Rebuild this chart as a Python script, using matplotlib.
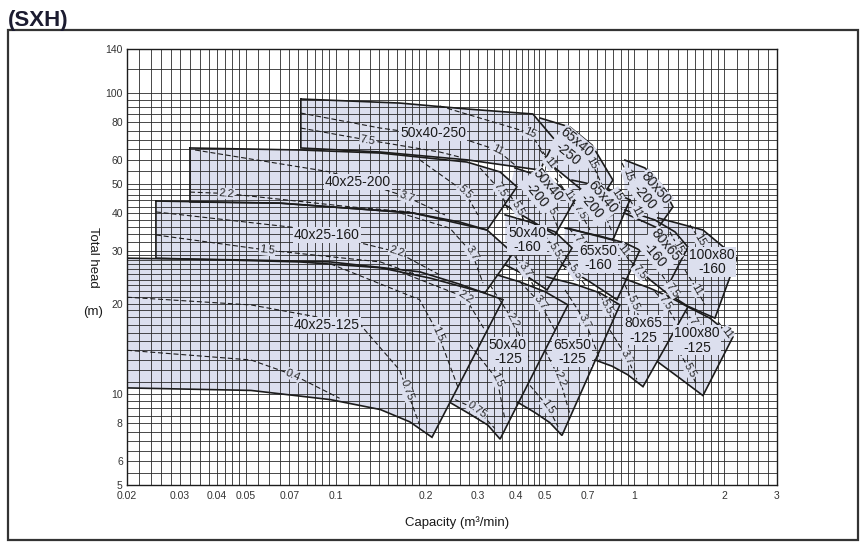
import matplotlib.pyplot as plt
from matplotlib.patches import Rectangle
from matplotlib.ticker import NullFormatter
import numpy as np

plt.rcParams['font.family'] = ['Liberation Sans', 'DejaVu Sans']

# capacity (m3/min) and total head (m)
# every model: (Q, H) of the big impeller curve and of the small impeller curve
m40x25_125_top = ([0.020, 0.052, 0.096, 0.191, 0.260, 0.363], [28.3, 27.9, 27.5, 25.5, 23.2, 20.6])
m40x25_125_bot = ([0.020, 0.052, 0.096, 0.141, 0.177, 0.210], [10.5, 10.3, 9.6, 8.9, 8.1, 7.2])
m50x40_125_top = ([0.347, 0.414, 0.502, 0.599], [24.9, 23.6, 21.9, 19.8])
m50x40_125_bot = ([0.241, 0.281, 0.323, 0.355], [9.4, 8.6, 7.9, 7.1])
m65x50_125_top = ([0.510, 0.632, 0.767, 0.894], [24.5, 23.2, 21.7, 19.8])
m65x50_125_bot = ([0.407, 0.464, 0.521, 0.572], [9.4, 8.7, 8.05, 7.3])
m80x65_125_top = ([0.915, 1.127, 1.315, 1.510], [24.3, 22.5, 21.0, 19.5])
m80x65_125_bot = ([0.738, 0.841, 0.951, 1.068], [13.0, 12.4, 11.6, 10.6])
m100x80_125_top = ([1.510, 1.789, 2.137], [19.5, 17.9, 15.5])
m100x80_125_bot = ([1.198, 1.420, 1.696], [12.8, 11.3, 9.9])

m40x25_160_top = ([0.025, 0.065, 0.181, 0.260, 0.321, 0.392], [43.8, 43.1, 40.0, 37.3, 35.1, 29.4])
m40x25_160_bot = ([0.025, 0.076, 0.141, 0.207, 0.316], [28.3, 27.5, 26.3, 24.3, 21.7])
m50x40_160_top = ([0.369, 0.447, 0.542, 0.618], [39.4, 37.3, 34.6, 30.6])
m50x40_160_bot = ([0.369, 0.430, 0.510], [26.9, 24.9, 22.2])
m65x50_160_top = ([0.586, 0.767, 0.929, 1.043], [35.6, 33.5, 31.8, 30.1])
m65x50_160_bot = ([0.572, 0.710, 0.874], [26.9, 23.6, 20.6])
m80x65_160_top = ([0.929, 1.171, 1.367, 1.510], [40.9, 37.9, 34.6, 30.8])
m80x65_160_bot = ([0.989, 1.127, 1.265], [26.9, 24.0, 21.9])
m100x80_160_top = ([1.198, 1.696, 2.203], [38.5, 35.1, 28.3])
m100x80_160_bot = ([1.265, 1.510, 1.860], [21.9, 19.6, 17.9])

m40x25_200_top = ([0.0325, 0.076, 0.141, 0.275, 0.355, 0.404], [65.7, 64.7, 63.2, 59.0, 54.7, 48.8])
m40x25_200_bot = ([0.0325, 0.065, 0.181, 0.321], [43.5, 43.1, 40.0, 35.1])
m50x40_200_top = ([0.398, 0.483, 0.563, 0.632], [56.4, 53.0, 49.1, 44.2])
m50x40_200_bot = ([0.369, 0.447, 0.542], [42.5, 37.9, 33.8])
m65x40_200_top = ([0.618, 0.738, 0.847, 0.966], [51.4, 49.5, 46.9, 44.2])
m65x40_200_bot = ([0.599, 0.710, 0.847], [35.6, 34.0, 32.5])
m80x50_200_top = ([0.929, 1.084, 1.236, 1.346], [59.9, 56.4, 49.5, 41.9])
m80x50_200_bot = ([0.922, 1.043, 1.198], [40.0, 37.9, 35.6])

m50x40_250_top = ([0.0764, 0.164, 0.275, 0.457, 0.542], [95.5, 92.6, 88.5, 85.2, 69.8])
m50x40_250_bot = ([0.0764, 0.141, 0.275, 0.383, 0.483], [65.7, 63.7, 60.0, 57.3, 55.5])
m65x40_250_top = ([0.483, 0.608, 0.721, 0.847], [82.6, 77.1, 67.2, 51.4])
m65x40_250_bot = ([0.502, 0.608, 0.755], [60.0, 51.4, 43.1])

# motor output lines (kW): text, Q, H, index of the point carrying the label
kw_lines = [
    ("0.4", [0.020, 0.052, 0.072, 0.103], [14.0, 13.0, 11.6, 9.7], 2),
    ("0.75", [0.020, 0.052, 0.121, 0.164, 0.173, 0.191], [21.0, 19.8, 17.0, 12.0, 10.3, 7.9], 4),
    ("1.5", [0.096, 0.191, 0.220, 0.257], [27.1, 20.6, 15.9, 10.5], 2),
    ("2.2", [0.164, 0.271, 0.316], [25.5, 21.0, 16.3], 1),
    ("0.75", [0.251, 0.297, 0.341], [9.6, 8.9, 7.7], 1),
    ("1.5", [0.281, 0.347, 0.369], [14.6, 11.2, 8.2], 1),
    ("2.2", [0.328, 0.392, 0.447], [23.1, 17.6, 13.0], 1),
    ("3.7", [0.414, 0.483, 0.542], [23.6, 20.1, 16.3], 1),
    ("1.5", [0.447, 0.513, 0.555], [10.7, 9.1, 7.8], 1),
    ("2.2", [0.502, 0.563, 0.608], [14.0, 11.2, 8.6], 1),
    ("3.7", [0.586, 0.683, 0.767], [22.2, 17.5, 13.0], 1),
    ("5.5", [0.755, 0.809, 0.841], [21.9, 19.5, 17.6], 1),
    ("3.7", [0.828, 0.944, 1.019], [16.3, 13.3, 11.2], 1),
    ("5.5", [0.929, 0.989, 1.084], [23.1, 20.1, 16.3], 1),
    ("7.5", [1.171, 1.265, 1.367], [21.9, 20.1, 17.6], 1),
    ("5.5", [1.367, 1.534, 1.619], [14.6, 12.0, 10.7], 1),
    ("7.5", [1.476, 1.594, 1.722], [19.0, 17.0, 14.6], 1),
    ("11", [1.904, 2.040, 2.118], [17.4, 16.0, 15.1], 1),
    ("1.5", [0.025, 0.059, 0.141, 0.191], [33.8, 30.1, 27.5, 24.7], 1),
    ("2.2", [0.025, 0.076, 0.160, 0.223], [40.3, 35.6, 29.7, 24.9], 2),
    ("3.7", [0.164, 0.241, 0.286, 0.311], [40.0, 35.6, 29.4, 23.4], 2),
    ("3.7", [0.383, 0.430, 0.464], [30.1, 25.9, 22.5], 1),
    ("5.5", [0.483, 0.542, 0.586], [35.6, 30.1, 25.9], 1),
    ("5.5", [0.586, 0.632, 0.683], [29.0, 25.5, 23.1], 1),
    ("7.5", [0.604, 0.657, 0.738], [35.6, 32.0, 27.5], 1),
    ("11", [0.841, 0.915, 0.966], [33.0, 30.1, 27.5], 1),
    ("7.5", [0.966, 1.043, 1.127], [27.9, 25.5, 23.1], 1),
    ("15", [1.315, 1.398, 1.476], [34.6, 30.8, 27.9], 1),
    ("7.5", [1.236, 1.335, 1.420], [24.9, 22.2, 20.6], 1),
    ("11", [1.476, 1.619, 1.722], [25.9, 22.2, 19.8], 1),
    ("15", [1.534, 1.657, 1.817], [36.5, 32.5, 27.5], 1),
    ("2.2", [0.0325, 0.043, 0.112, 0.177], [46.9, 46.4, 41.9, 40.3], 1),
    ("3.7", [0.0338, 0.096, 0.173, 0.232], [64.7, 54.7, 45.2, 39.4], 2),
    ("5.5", [0.191, 0.271, 0.299], [60.0, 46.9, 39.4], 1),
    ("7.5", [0.304, 0.355, 0.377], [56.4, 47.6, 40.9], 1),
    ("5.5", [0.383, 0.407, 0.430], [45.9, 41.5, 37.3], 1),
    ("7.5", [0.464, 0.521, 0.555], [47.6, 41.5, 35.6], 1),
    ("11", [0.542, 0.604, 0.632], [52.2, 45.9, 40.9], 1),
    ("7.5", [0.618, 0.657, 0.710], [44.2, 40.3, 35.1], 1),
    ("11", [0.738, 0.797, 0.841], [44.8, 39.4, 34.6], 1),
    ("15", [0.815, 0.874, 0.908], [48.4, 45.9, 40.9], 1),
    ("15", [0.908, 0.951, 0.981], [58.6, 53.4, 45.9], 1),
    ("11", [0.966, 1.019, 1.060], [44.2, 40.3, 37.3], 1),
    ("7.5", [0.0764, 0.128, 0.223, 0.260], [76.5, 69.8, 63.7, 61.3], 1),
    ("11", [0.0764, 0.141, 0.275, 0.347, 0.398], [85.8, 76.5, 69.8, 64.7, 57.7], 3),
    ("15", [0.223, 0.447, 0.502], [90.5, 73.7, 62.3], 1),
    ("11", [0.483, 0.521, 0.572], [64.7, 58.6, 52.2], 1),
    ("15", [0.632, 0.721, 0.779], [72.5, 58.6, 49.5], 1),
]

# model names with the point they are written at
model_names = ["40x25-125", "50x40\n-125", "65x50\n-125", "80x65\n-125", "100x80\n-125",
               "40x25-160", "50x40\n-160", "65x50\n-160", "80x65\n-160", "100x80\n-160",
               "40x25-200", "50x40\n-200", "65x40\n-200", "80x50\n-200",
               "50x40-250", "65x40\n-250"]
name_q = [0.0934, 0.377, 0.618, 1.068, 1.619,
          0.0934, 0.437, 0.755, 1.217, 1.817,
          0.1187, 0.490, 0.749, 1.127,
          0.2116, 0.618]
name_h = [17.0, 13.8, 13.8, 16.3, 15.1,
          33.8, 32.5, 28.3, 30.1, 27.5,
          50.7, 47.6, 43.5, 46.6,
          73.7, 65.7]
name_rot = [0, 0, 0, 0, 0, 0, 0, 0, -50, 0, 0, -50, -50, -50, 0, -40]

x_ticks = [0.02, 0.03, 0.04, 0.05, 0.07, 0.1, 0.2, 0.3, 0.4, 0.5, 0.7, 1, 2, 3]
x_labels = ['0.02', '0.03', '0.04', '0.05', '0.07', '0.1', '0.2', '0.3', '0.4', '0.5', '0.7', '1', '2', '3']
y_ticks = [5, 6, 8, 10, 20, 30, 40, 50, 60, 80, 100, 140]

regions = [
    (m40x25_125_top, m40x25_125_bot, True), (m50x40_125_top, m50x40_125_bot, False),
    (m65x50_125_top, m65x50_125_bot, False), (m80x65_125_top, m80x65_125_bot, False),
    (m100x80_125_top, m100x80_125_bot, False),
    (m40x25_160_top, m40x25_160_bot, True), (m50x40_160_top, m50x40_160_bot, False),
    (m65x50_160_top, m65x50_160_bot, False), (m80x65_160_top, m80x65_160_bot, False),
    (m100x80_160_top, m100x80_160_bot, False),
    (m40x25_200_top, m40x25_200_bot, True), (m50x40_200_top, m50x40_200_bot, False),
    (m65x40_200_top, m65x40_200_bot, False), (m80x50_200_top, m80x50_200_bot, False),
    (m50x40_250_top, m50x40_250_bot, True), (m65x40_250_top, m65x40_250_bot, False),
]

fill = '#dcdfee'
ink = '#1c1c1c'

fig = plt.figure(figsize=(8.65, 5.48), dpi=100)
ax = fig.add_axes([0.1468, 0.1150, 0.7514, 0.7956])
ax.set_xscale('log')
ax.set_yscale('log')
ax.set_xlim(0.02, 3)
ax.set_ylim(5, 140)

grid_q = np.concatenate([np.arange(0.02, 0.0299, 0.002), np.arange(0.03, 0.0499, 0.0025),
                         np.arange(0.05, 0.0999, 0.005), np.arange(0.1, 0.199, 0.01),
                         np.arange(0.2, 0.499, 0.02), np.arange(0.5, 0.999, 0.05),
                         np.arange(1, 1.99, 0.1), np.arange(2, 3.01, 0.2)])
grid_h = np.concatenate([np.arange(5, 9.9, 0.5), np.arange(10, 29.9, 1), np.arange(30, 49.9, 2),
                         np.arange(50, 99, 5), [100, 120, 140]])
ax.set_xticks(grid_q, minor=True)
ax.set_yticks(grid_h, minor=True)
ax.set_xticks(x_ticks)
ax.set_xticklabels(x_labels)
ax.set_yticks(y_ticks)
ax.set_yticklabels([str(v) for v in y_ticks])
ax.xaxis.set_minor_formatter(NullFormatter())
ax.yaxis.set_minor_formatter(NullFormatter())
ax.tick_params(which='both', length=0, labelsize=7.5, labelcolor='#333333')
ax.tick_params(axis='x', pad=4)
ax.tick_params(axis='y', pad=3)
ax.set_axisbelow('line')
ax.grid(which='both', color='#2a2a2a', lw=0.6)
for s in ax.spines.values():
    s.set_color(ink)
    s.set_linewidth(1.0)

for top, bot, first in regions:
    qs = list(top[0]) + list(bot[0])[::-1]
    hs = list(top[1]) + list(bot[1])[::-1]
    ax.fill(qs, hs, color=fill, lw=0, zorder=1)
for top, bot, first in regions:
    qs = list(top[0]) + list(bot[0])[::-1]
    hs = list(top[1]) + list(bot[1])[::-1]
    if first:
        qs.append(top[0][0])
        hs.append(top[1][0])
    ax.plot(qs, hs, color=ink, lw=1.2, zorder=3, solid_joinstyle='miter')


def seg_angle(q0, h0, q1, h1):
    p0 = ax.transData.transform((q0, h0))
    p1 = ax.transData.transform((q1, h1))
    return np.degrees(np.arctan2(p1[1] - p0[1], p1[0] - p0[0]))


for txt, qs, hs, k in kw_lines:
    ax.plot(qs, hs, color=ink, lw=0.8, ls=(0, (4.5, 2.5)), zorder=2.5)
    ang = seg_angle(qs[k - 1], hs[k - 1], qs[k + 1], hs[k + 1])
    ax.text(qs[k], hs[k], txt, fontsize=8, color='#222222', rotation=ang,
            rotation_mode='anchor', ha='center', va='center', zorder=4,
            bbox=dict(facecolor=fill, edgecolor='none', pad=0.5))

for name, q, h, rot in zip(model_names, name_q, name_h, name_rot):
    ax.text(q, h, name, fontsize=10, color='#1a1a1a', rotation=rot, rotation_mode='anchor',
            ha='center', va='center', linespacing=1.05, zorder=5,
            bbox=dict(facecolor=fill, edgecolor='none', pad=0.6))

fig.text(0.528, 0.047, 'Capacity (m³/min)', fontsize=9.5, ha='center', va='center', color='#1a1a1a')
fig.text(0.1075, 0.53, 'Total head', fontsize=9.5, rotation=-90, ha='center', va='center', color='#1a1a1a')
fig.text(0.1075, 0.43, '(m)', fontsize=9.5, ha='center', va='center', color='#1a1a1a')
fig.text(0.009, 0.962, '(SXH)', fontsize=16, fontweight='bold', ha='left', va='center', color='#1b1b30')
fig.patches.append(Rectangle((0.0092, 0.0146), 0.9827, 0.9307, transform=fig.transFigure,
                             fill=False, edgecolor='#333333', lw=1.6))

fig.savefig('out.png', dpi=100)
